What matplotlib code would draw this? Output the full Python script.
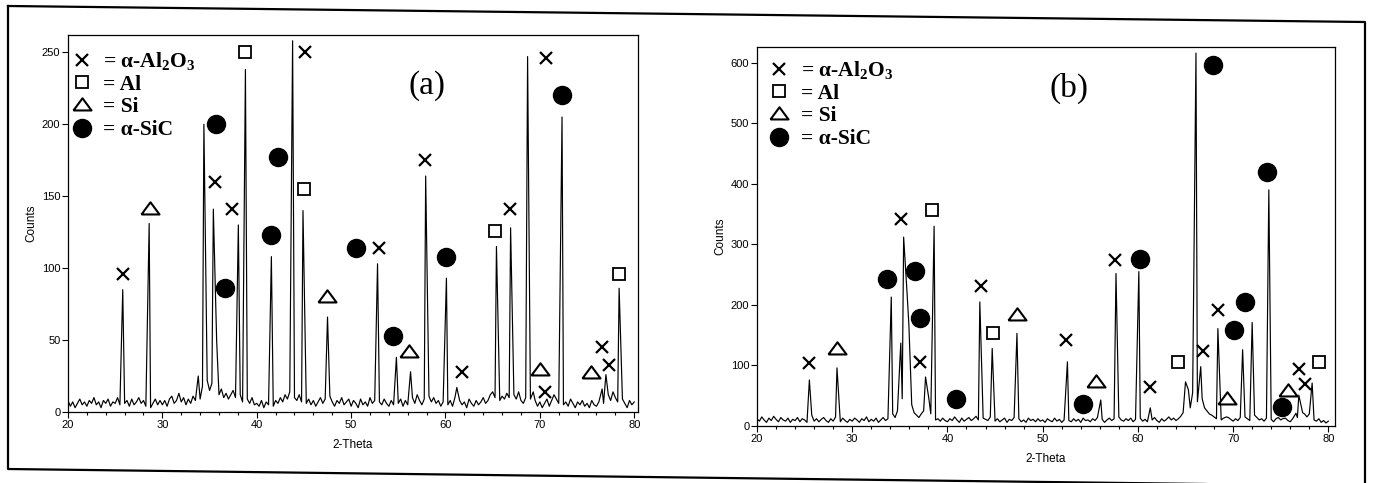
import numpy as np
import matplotlib
matplotlib.use("Agg")
import matplotlib.pyplot as plt
from matplotlib.lines import Line2D
from matplotlib.ticker import MultipleLocator
from matplotlib.font_manager import FontProperties

plt.rcParams['mathtext.fontset'] = 'custom'
plt.rcParams['mathtext.rm'] = 'Liberation Serif:bold'
plt.rcParams['mathtext.default'] = 'rm'

# ---------------- data ----------------
theta_start = 20.0
theta_step = 0.25

# panel (a): baseline counts every 0.25 deg from 20 to 80
a_base = [8, 4, 7, 3, 6, 9, 5, 7, 4, 8, 6, 10, 5, 7, 3, 8, 6, 9, 4, 7,
          6, 10, 5, 12, 6, 8, 4, 9, 5, 7, 10, 6, 8, 4, 7, 3, 6, 9, 5, 8,
          5, 8, 4, 9, 11, 6, 8, 13, 7, 10, 5, 9, 6, 11, 8, 12, 9, 18, 12, 22,
          15, 20, 14, 18, 12, 16, 10, 13, 9, 12, 15, 10, 8, 12, 7, 11, 9, 6, 10, 5,
          6, 4, 8, 3, 7, 5, 9, 4, 8, 6, 10, 7, 12, 9, 14, 18, 10, 8, 12, 7,
          10, 6, 9, 5, 8, 4, 7, 10, 6, 9, 5, 11, 7, 4, 8, 6, 10, 5, 7, 9,
          4, 8, 6, 3, 9, 5, 7, 4, 10, 6, 8, 3, 7, 5, 9, 6, 4, 8, 5, 10,
          6, 9, 4, 8, 5, 7, 10, 6, 12, 8, 5, 9, 6, 11, 7, 10, 6, 8, 4, 7,
          9, 5, 8, 4, 10, 6, 8, 5, 7, 3, 9, 6, 4, 8, 5, 7, 10, 6, 8, 12,
          14, 10, 12, 8, 11, 9, 13, 10, 8, 12, 9, 14, 8, 6, 10, 7, 9, 5, 8, 4,
          7, 3, 6, 9, 4, 8, 12, 9, 6, 8, 5, 7, 4, 9, 6, 3, 7, 5, 8, 4,
          6, 3, 8, 5, 4, 7, 3, 6, 9, 12, 8, 14, 10, 7, 12, 9, 6, 3, 8, 5,
          7]
a_peak_pos = [25.8, 28.6, 33.8, 34.4, 35.4, 35.75, 38.05, 38.8, 41.55, 43.8,
              44.9, 47.5, 52.8, 54.8, 56.3, 57.9, 60.1, 61.2, 65.4, 66.9,
              68.7, 69.3, 72.35, 76.6, 77.0, 78.4]
a_peak_h = [85, 131, 25, 200, 141, 50, 130, 238, 108, 258,
            140, 66, 103, 38, 28, 164, 93, 17, 115, 128,
            247, 14, 205, 16, 26, 86]

a_al2o3_x = [25.8, 35.6, 37.4, 45.1, 53.0, 57.8, 61.7, 66.8, 70.6, 70.5, 76.6, 77.35]
a_al2o3_y = [96, 160, 141, 250, 114, 175, 28, 141, 246, 14, 45, 33]
a_al_x = [38.8, 45.0, 65.2, 78.4]
a_al_y = [250, 155, 126, 96]
a_si_x = [28.7, 47.4, 56.1, 70.05, 75.4]
a_si_y = [141, 80, 42, 29, 27]
a_sic_x = [35.7, 36.6, 42.2, 41.55, 50.5, 54.4, 60.1, 72.3]
a_sic_y = [200, 86, 177, 123, 114, 53, 108, 220]

# panel (b)
b_base = [12, 8, 15, 10, 6, 13, 9, 16, 11, 7, 14, 10, 8, 13, 6, 11, 9, 14, 7, 12,
          10, 6, 13, 18, 8, 12, 7, 11, 14, 9, 6, 12, 8, 15, 10, 7, 13, 9, 6, 11,
          8, 13, 10, 6, 12, 9, 15, 7, 11, 8, 13, 6, 10, 14, 9, 12, 16, 20, 14, 25,
          30, 45, 60, 40, 50, 35, 22, 18, 14, 20, 25, 30, 40, 20, 14, 10, 12, 8, 13, 9,
          7, 12, 9, 15, 10, 6, 13, 8, 11, 14, 9, 12, 16, 10, 8, 13, 11, 9, 15, 10,
          8, 12, 7, 10, 13, 6, 11, 9, 14, 8, 12, 7, 10, 6, 13, 9, 11, 7, 12, 8,
          10, 6, 12, 9, 7, 13, 8, 11, 6, 10, 14, 9, 7, 12, 8, 11, 6, 13, 9, 10,
          7, 12, 9, 14, 8, 11, 6, 10, 13, 9, 12, 7, 15, 10, 8, 12, 9, 13, 7, 11,
          9, 13, 8, 11, 7, 12, 10, 14, 9, 6, 12, 8, 11, 15, 10, 13, 9, 12, 16, 22,
          28, 40, 30, 55, 60, 40, 35, 45, 30, 25, 20, 18, 15, 12, 16, 10, 13, 9, 14, 11,
          8, 12, 9, 14, 10, 15, 12, 9, 13, 18, 14, 10, 12, 8, 13, 9, 11, 7, 12, 14,
          10, 8, 13, 9, 7, 12, 10, 14, 18, 25, 20, 15, 20, 14, 10, 8, 12, 6, 9, 5,
          8]
b_peak_pos = [25.5, 28.4, 34.1, 35.1, 35.4, 35.75, 35.95, 37.7, 38.05, 38.6,
              43.4, 44.7, 47.3, 52.6, 56.1, 57.7, 60.1, 61.3, 65.0, 65.3,
              66.1, 66.6, 68.4, 69.3, 71.0, 72.0, 73.75, 75.2, 76.6, 76.9,
              77.3, 78.3]
b_peak_h = [76, 96, 213, 137, 312, 222, 167, 81, 45, 330,
            205, 128, 153, 106, 43, 252, 255, 30, 73, 60,
            616, 98, 161, 15, 126, 171, 390, 12, 21, 51,
            22, 71]

b_al2o3_x = [25.5, 35.1, 37.1, 43.5, 52.5, 57.6, 61.3, 66.8, 68.4, 76.9, 77.5]
b_al2o3_y = [104, 342, 105, 232, 142, 274, 65, 124, 192, 94, 70]
b_al_x = [38.4, 44.8, 64.2, 79.0]
b_al_y = [356, 153, 106, 105]
b_si_x = [28.4, 47.3, 55.65, 69.4, 75.8]
b_si_y = [128, 183, 72, 44, 58]
b_sic_x = [33.6, 36.6, 37.1, 40.9, 54.2, 60.2, 67.9, 70.1, 71.3, 73.6, 75.1]
b_sic_y = [243, 256, 179, 45, 37, 276, 597, 159, 204, 420, 32]

legend_labels = ["= \u03b1-Al$_2$O$_3$", "= Al", "= Si", "= \u03b1-SiC"]

# ---------------- drawing ----------------
W, H = 1373, 483
fig = plt.figure(figsize=(W / 100, H / 100), dpi=100)
fig.patch.set_facecolor('white')


def spectrum(base, pos, h):
    bx = theta_start + theta_step * np.arange(len(base))
    by = np.asarray(base, float)
    p = np.asarray(pos, float)
    keep = np.array([np.min(np.abs(p - x)) >= 0.13 for x in bx])
    x = np.concatenate([bx[keep], p])
    y = np.concatenate([by[keep], np.asarray(h, float)])
    o = np.argsort(x)
    return x[o], y[o]


def px_axes(l, t, r, b):
    return [l / W, 1 - b / H, (r - l) / W, (b - t) / H]


tick_font = 'Liberation Sans'
flat_triangle = [(-1.0, -0.55), (1.0, -0.55), (0.0, 0.8), (-1.0, -0.55)]
x_style = dict(marker='x', ls='none', color='black', ms=8.5, mew=1.6)
s_style = dict(marker='s', ls='none', mfc='white', mec='black', ms=9, mew=1.3)
t_style = dict(marker=flat_triangle, ls='none', mfc='white', mec='black', ms=13, mew=1.5)
o_style = dict(marker='o', ls='none', color='black', ms=13)
leg_prop = FontProperties(family='Liberation Serif', weight='bold', size=15.5)


def panel(rect, base, pos, h, mk, xlim, ylim, ymajor, letter, letter_xy, leg_anchor):
    ax = fig.add_axes(rect)
    x, y = spectrum(base, pos, h)
    ax.plot(x, y, color='black', lw=0.85)
    (ax_x, ax_y), (al_x, al_y), (si_x, si_y), (sic_x, sic_y) = mk
    h1, = ax.plot(ax_x, ax_y, **x_style)
    h2, = ax.plot(al_x, al_y, **s_style)
    h3, = ax.plot(si_x, si_y, **t_style)
    h4, = ax.plot(sic_x, sic_y, **o_style)
    for hd in (h1, h2, h3, h4):
        hd.set_clip_on(False)
    ax.set_xlim(*xlim)
    ax.set_ylim(*ylim)
    ax.xaxis.set_major_locator(MultipleLocator(10))
    ax.xaxis.set_minor_locator(MultipleLocator(2))
    ax.yaxis.set_major_locator(MultipleLocator(ymajor))
    ax.tick_params(axis='both', which='major', direction='out', length=4,
                   width=0.8, labelsize=8, pad=1.5)
    ax.tick_params(axis='x', which='minor', direction='out', length=2.5, width=0.8)
    for lab in ax.get_xticklabels() + ax.get_yticklabels():
        lab.set_family(tick_font)
    for s in ax.spines.values():
        s.set_linewidth(0.9)
    ax.set_xlabel('2-Theta', family=tick_font, fontsize=8.5, labelpad=7)
    ax.set_ylabel('Counts', family=tick_font, fontsize=8.5, labelpad=3)
    ax.text(letter_xy[0], letter_xy[1], letter, transform=ax.transAxes,
            family='Liberation Serif', fontsize=24, ha='center', va='center')
    ax.legend([h1, h2, h3, h4], legend_labels, loc='upper left',
              bbox_to_anchor=leg_anchor, frameon=False, prop=leg_prop,
              handlelength=1.0, handletextpad=0.5, labelspacing=0.12,
              borderaxespad=0.0, borderpad=0.0, markerscale=1.0)
    return ax


panel(px_axes(68, 35, 638, 412), a_base, a_peak_pos, a_peak_h,
      [(a_al2o3_x, a_al2o3_y), (a_al_x, a_al_y), (a_si_x, a_si_y), (a_sic_x, a_sic_y)],
      (20, 80.4), (0, 262), 50, '(a)', (0.63, 0.865), (0.005, 0.96))

panel(px_axes(757, 47, 1335, 426), b_base, b_peak_pos, b_peak_h,
      [(b_al2o3_x, b_al2o3_y), (b_al_x, b_al_y), (b_si_x, b_si_y), (b_sic_x, b_sic_y)],
      (20, 80.7), (0, 626), 100, '(b)', (0.54, 0.89), (0.02, 0.968))

# outer frame of the scanned figure
fx = [8 / W, 1365 / W, 1365 / W, 8 / W, 8 / W]
fy = [1 - 6 / H, 1 - 22 / H, 1 - 486 / H, 1 - 469 / H, 1 - 6 / H]
fig.add_artist(Line2D(fx, fy, transform=fig.transFigure, color='black', lw=1.6))

fig.savefig('out.png', dpi=100)
